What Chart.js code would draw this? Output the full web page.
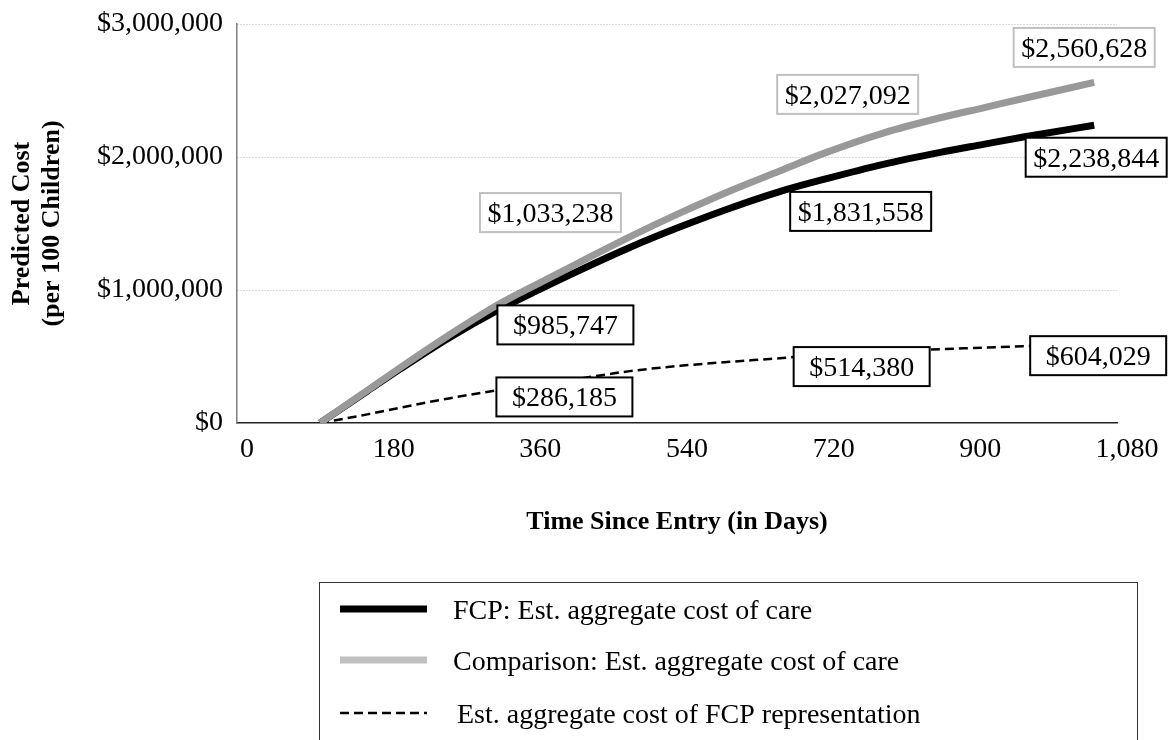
<!DOCTYPE html>
<html>
<head>
<meta charset="utf-8">
<script src="https://cdn.jsdelivr.net/npm/chart.js@4.4.0/dist/chart.umd.min.js"></script>
<style>
  html, body { margin: 0; padding: 0; background: #fff; }
  #wrap { width: 1169px; height: 740px; }
</style>
</head>
<body>
<div id="wrap"><canvas id="costChart"></canvas></div>
<script>
// values (days since entry / dollars per 100 children)
const days = [102, 160, 200, 260, 319, 365, 421, 482, 544, 605, 666, 720, 793, 863, 916, 965, 1052]
const fcpCost = [0, 240000, 405000, 640000, 845000, 985747, 1150000, 1320000, 1475000, 1615000, 1740000, 1831558, 1945000, 2035000, 2095000, 2150000, 2238844]
const comparisonCost = [0, 245000, 415000, 660000, 885000, 1033238, 1210000, 1400000, 1580000, 1745000, 1895000, 2027092, 2180000, 2295000, 2370000, 2440000, 2560628]
const representationCost = [0, 65000, 115000, 185000, 245000, 286185, 335000, 390000, 430000, 460000, 487000, 514380, 535000, 555000, 567000, 578000, 604029]

const labelDays = [365, 720, 1052]
const fcpLabels = [985747, 1831558, 2238844]
const comparisonLabels = [1033238, 2027092, 2560628]
const representationLabels = [286185, 514380, 604029]

const xTicks = [0, 180, 360, 540, 720, 900, 1080]
const yTicks = [0, 1000000, 2000000, 3000000]

const seriesNames = [
  "FCP: Est. aggregate cost of care",
  "Comparison: Est. aggregate cost of care",
  "Est. aggregate cost of FCP representation",
]

const FONT = '"Liberation Serif", "Times New Roman", serif'
const money = (v) => "$" + Math.round(v).toLocaleString("en-US")
const toPoints = (vals) => days.map((d, i) => ({ x: d, y: vals[i] }))

// label boxes, in dataset order; offsets are pixels from the labelled point
const labelSets = [
  { values: fcpLabels, border: "#000", offsets: [[31, 33], [37, 32], [2, 32]] },
  { values: comparisonLabels, border: "#c0c0c0", offsets: [[16, -73], [24, -59], [-10, -35]] },
  { values: representationLabels, border: "#000", offsets: [[30, 12], [38, 12], [4, 13]] },
]

const valueLabels = {
  id: "valueLabels",
  afterDatasetsDraw(chart) {
    const { ctx } = chart
    const x = chart.scales.x
    const y = chart.scales.y
    ctx.save()
    ctx.font = "28px " + FONT
    ctx.textAlign = "center"
    ctx.textBaseline = "middle"
    labelSets.forEach((set) => {
      set.values.forEach((v, i) => {
        const text = money(v)
        const cx = x.getPixelForValue(labelDays[i]) + set.offsets[i][0]
        const cy = y.getPixelForValue(v) + set.offsets[i][1]
        const w = Math.max(136, ctx.measureText(text).width + 15)
        const h = 39
        ctx.fillStyle = "#fff"
        ctx.fillRect(cx - w / 2, cy - h / 2, w, h)
        ctx.lineWidth = 2
        ctx.strokeStyle = set.border
        ctx.strokeRect(cx - w / 2, cy - h / 2, w, h)
        ctx.fillStyle = "#000"
        ctx.fillText(text, cx, cy + 2)
      })
    })
    ctx.restore()
  },
}

const boxLegend = {
  id: "boxLegend",
  afterDraw(chart) {
    const { ctx } = chart
    const rows = [609, 660, 713]
    const swatchColors = ["#000", "#c0c0c0", "#000"]
    ctx.save()
    ctx.strokeStyle = "#333"
    ctx.lineWidth = 1
    ctx.strokeRect(319.5, 582.5, 818, 200)
    ctx.font = "28px " + FONT
    ctx.textBaseline = "middle"
    ctx.textAlign = "left"
    chart.data.datasets.forEach((ds, i) => {
      const yy = rows[i]
      ctx.beginPath()
      ctx.strokeStyle = swatchColors[i]
      ctx.lineWidth = ds.borderWidth
      ctx.setLineDash(ds.borderDash || [])
      ctx.moveTo(340, yy)
      ctx.lineTo(427, yy)
      ctx.stroke()
      ctx.setLineDash([])
      ctx.fillStyle = "#000"
      ctx.fillText(ds.label, i === 2 ? 457 : 453, yy + 3)
    })
    ctx.restore()
  },
}

new Chart(document.getElementById("costChart"), {
  type: "line",
  data: {
    datasets: [
      {
        label: seriesNames[0],
        data: toPoints(fcpCost),
        borderColor: "#000",
        borderWidth: 7,
        order: 1,
      },
      {
        label: seriesNames[1],
        data: toPoints(comparisonCost),
        borderColor: "#999999",
        borderWidth: 7,
        order: 0,
      },
      {
        label: seriesNames[2],
        data: toPoints(representationCost),
        borderColor: "#000",
        borderWidth: 2.5,
        borderDash: [9, 5],
        order: 2,
      },
    ],
  },
  options: {
    responsive: true,
    maintainAspectRatio: false,
    animation: false,
    elements: {
      point: { radius: 0 },
      line: { cubicInterpolationMode: "monotone", borderCapStyle: "butt", fill: false },
    },
    layout: { padding: { left: 0, right: 52, top: 24, bottom: 202 } },
    plugins: {
      legend: { display: false },
      tooltip: { enabled: false },
    },
    scales: {
      x: {
        type: "linear",
        min: 0,
        max: 1080,
        afterBuildTicks: (axis) => { axis.ticks = xTicks.map((v) => ({ value: v })) },
        afterFit: (scale) => { scale.height = 115 },
        ticks: {
          color: "#000",
          font: { family: FONT, size: 28 },
          padding: 10,
          labelOffset: 10,
          maxRotation: 0,
          callback: (v) => v.toLocaleString("en-US"),
        },
        grid: { display: false, drawTicks: false },
        border: { display: true, color: "#222", width: 1.5 },
        title: {
          display: true,
          text: "Time Since Entry (in Days)",
          color: "#000",
          font: { family: FONT, size: 26, weight: "bold" },
          padding: { top: 0, bottom: 0 },
        },
      },
      y: {
        min: 0,
        max: 3000000,
        afterBuildTicks: (axis) => { axis.ticks = yTicks.map((v) => ({ value: v })) },
        afterFit: (scale) => {
          scale.width = 237
          scale.paddingTop = 0
          scale.paddingBottom = 0
        },
        ticks: {
          color: "#000",
          font: { family: FONT, size: 28 },
          padding: 14,
          callback: (v) => money(v),
        },
        grid: {
          drawTicks: false,
          color: (c) => (c.tick && c.tick.value === 0 ? "rgba(0,0,0,0)" : "#b4b4b4"),
          lineWidth: 1,
        },
        border: { display: true, color: "#808080", width: 1.5, dash: [1, 2] },
        title: {
          display: true,
          text: ["Predicted Cost", "(per 100 Children)"],
          color: "#000",
          font: { family: FONT, size: 26, weight: "bold", lineHeight: 1.15 },
          padding: { top: 7, bottom: 0 },
        },
      },
    },
  },
  plugins: [valueLabels, boxLegend],
})
</script>
</body>
</html>
